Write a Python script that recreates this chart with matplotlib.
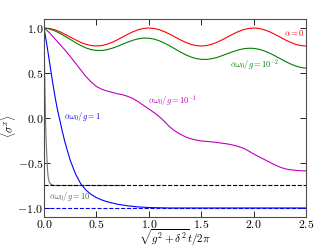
import numpy as np
import matplotlib
matplotlib.use('Agg')
import matplotlib.pyplot as plt
from matplotlib.ticker import FuncFormatter

plt.rcParams['mathtext.fontset'] = 'cm'
plt.rcParams['font.family'] = 'serif'

# time axis for the slow curves (step 0.05)
t_fine = [i * 0.05 for i in range(51)]

# alpha = 0
red = [1.0, .995, .981, .959, .931, .9, .869, .841, .819, .805,
       .8, .805, .819, .841, .869, .9, .931, .959, .981, .995,
       1.0, .995, .981, .959, .931, .9, .869, .841, .819, .805,
       .8, .805, .819, .841, .869, .9, .931, .959, .981, .995,
       1.0, .995, .981, .959, .931, .9, .869, .841, .819, .805, .8]

# alpha w0/g = 1e-2
green = [1.0, .990, .970, .942, .909, .874, .838, .806, .779, .760,
         .751, .750, .759, .775, .796, .821, .844, .865, .880, .888,
         .887, .877, .858, .832, .801, .768, .734, .704, .679, .661,
         .652, .651, .659, .673, .693, .715, .736, .755, .769, .775,
         .774, .764, .746, .722, .693, .662, .630, .602, .578, .562, .553]

# alpha w0/g = 1e-1
magenta = [1.0, .95, .885, .82, .755, .685, .61, .535, .46, .40,
           .35, .32, .30, .285, .27, .258, .24, .215, .18, .14,
           .10, .06, .015, -.04, -.10, -.145, -.18, -.21, -.23, -.245,
           -.255, -.26, -.265, -.272, -.28, -.288, -.30, -.315, -.335, -.365,
           -.40, -.43, -.46, -.49, -.52, -.545, -.565, -.575, -.582, -.586, -.588]

# alpha w0/g = 1
t_blue = [0.0, 0.025, 0.05, 0.075, 0.1, 0.125, 0.15, 0.175, 0.2, 0.25, 0.3, 0.35, 0.4, 0.45,
          0.5, 0.55, 0.6, 0.7, 0.8, 0.9, 1.0, 1.2, 1.5, 2.0, 2.5]
blue = [1.0, 0.83, 0.64, 0.45, 0.27, 0.11, -0.02, -0.15, -0.27, -0.47, -0.62, -0.73, -0.80, -0.85,
        -0.885, -0.91, -0.93, -0.958, -0.976, -0.988, -0.995, -1.0, -1.0, -1.0, -1.0]

# alpha w0/g = 10
t_gray = [0.0, 0.005, 0.01, 0.015, 0.02, 0.025, 0.03, 0.035, 0.04, 0.05,
          0.06, 0.08, 0.1, 0.75]
gray = [1.0, 0.6, 0.25, -0.05, -0.25, -0.38, -0.5, -0.6, -0.66, -0.71,
        -0.73, -0.745, -0.75, -0.75]

# asymptotes
lim_gray = -0.75
lim_blue = -1.0

fig = plt.figure(figsize=(3.27, 2.47), dpi=100)
ax = fig.add_axes([0.1346, 0.1215, 0.8014, 0.8015])

lw = 0.8
ax.plot(t_fine, red, color='r', lw=lw)
ax.plot(t_fine, green, color='g', lw=lw)
ax.plot(t_fine, magenta, color='m', lw=lw)
ax.plot(t_gray, gray, color='0.45', lw=lw)
ax.axhline(lim_gray, color='k', ls='--', lw=lw)
ax.axhline(lim_blue, color='b', ls='--', lw=lw)
ax.plot(t_blue, blue, color='b', lw=lw)

fs = 6
ax.text(2.385, 0.94, r'$\alpha=0$', color='r', fontsize=fs, ha='center', va='center')
ax.text(2.01, 0.59, r'$\alpha\omega_0/g=10^{-2}$', color='g', fontsize=fs, ha='center', va='center')
ax.text(1.23, 0.20, r'$\alpha\omega_0/g=10^{-1}$', color='m', fontsize=fs, ha='center', va='center')
ax.text(0.37, 0.015, r'$\alpha\omega_0/g=1$', color='b', fontsize=fs, ha='center', va='center')
ax.text(0.25, -0.875, r'$\alpha\omega_0/g=10$', color='0.35', fontsize=fs, ha='center', va='center')

ax.set_xlim(0, 2.5)
ax.set_ylim(-1.1, 1.1)
ax.set_xticks([0.0, 0.5, 1.0, 1.5, 2.0, 2.5])
ax.set_yticks([-1.0, -0.5, 0.0, 0.5, 1.0])
fmt = FuncFormatter(lambda v, p: r'$%.1f$' % v)
ax.xaxis.set_major_formatter(fmt)
ax.yaxis.set_major_formatter(fmt)
ax.tick_params(direction='in', top=True, right=True, labelsize=8.5, length=4, width=0.6, pad=0.5)
for s in ax.spines.values():
    s.set_linewidth(0.8)
    s.set_color('0.3')

ax.set_xlabel(r'$\sqrt{g^2+\delta^2}t/2\pi$', fontsize=8)
ax.xaxis.set_label_coords(0.5, -0.05)
ax.set_ylabel(r'$\langle\sigma^x\rangle$', fontsize=8)
ax.yaxis.set_label_coords(-0.1, 0.46)

fig.savefig('out.png', dpi=100)
